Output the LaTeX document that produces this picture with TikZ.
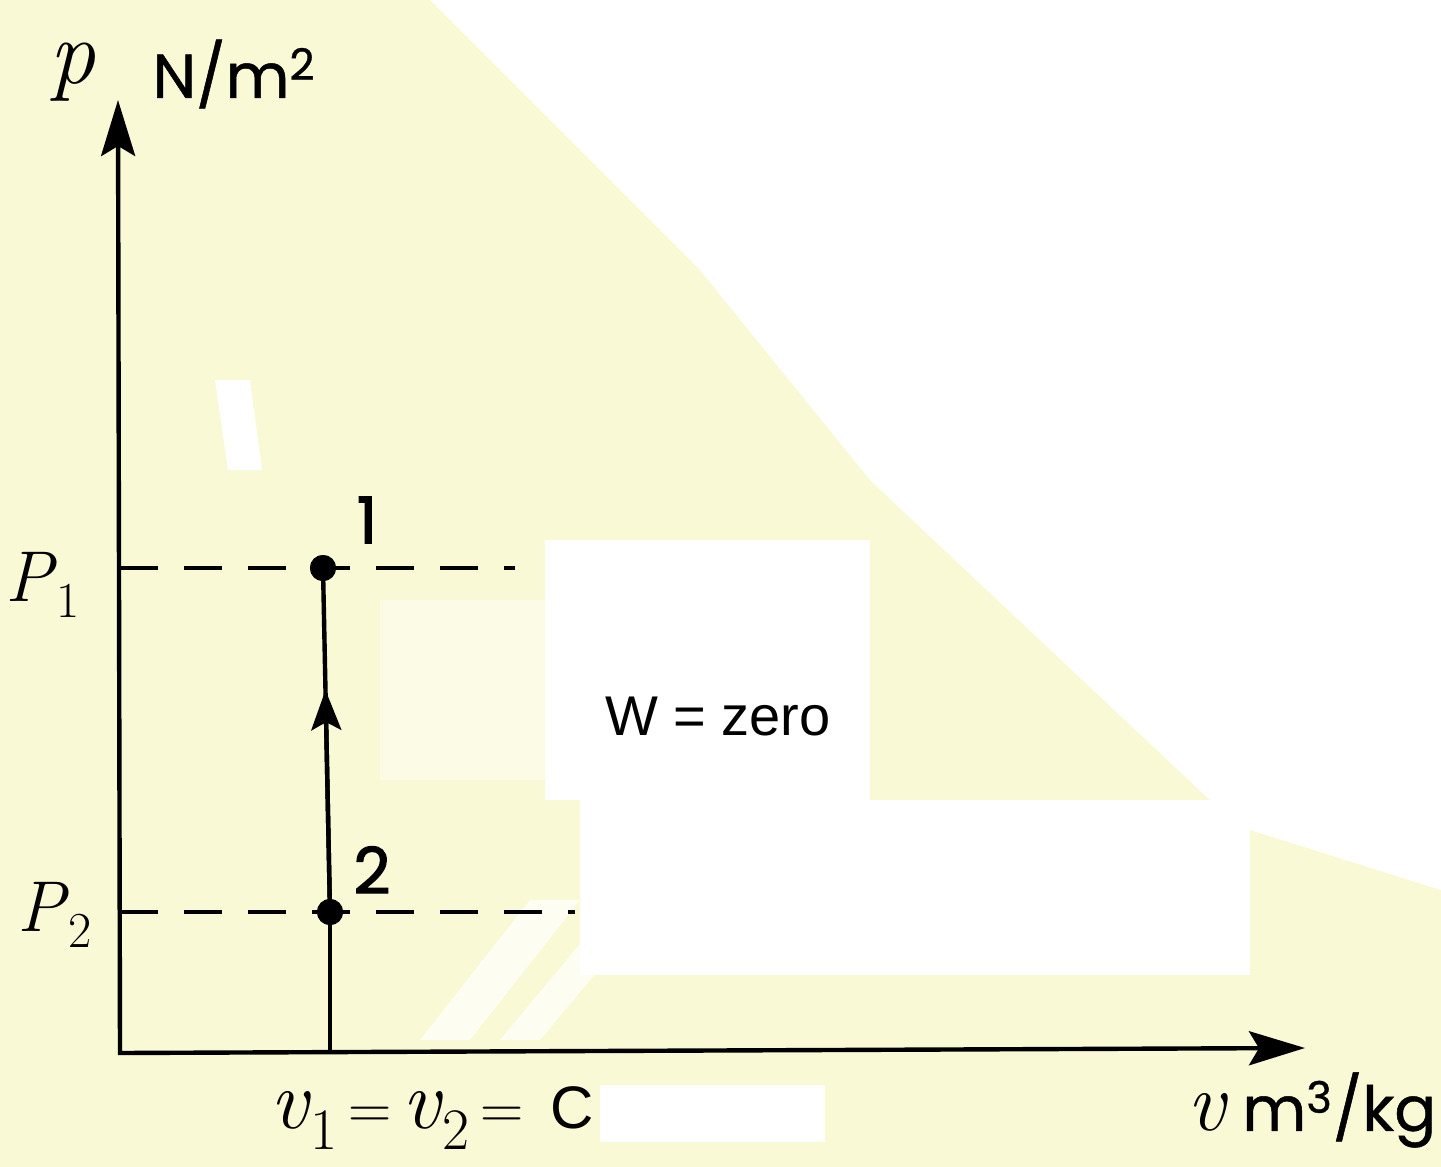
\documentclass[tikz,border=0pt]{standalone}
\usepackage{fontspec}
\setsansfont{Poppins}[FakeBold=1]
\newfontfamily\unitsfont{Poppins}[FakeBold=0.8]
\newfontfamily\numfont{Poppins}[FakeBold=2]
\newfontfamily\arial{Liberation Sans}
\usetikzlibrary{arrows.meta,calc}
\definecolor{paper}{RGB}{250,249,214}
\newcommand{\smeq}{{\fontsize{30}{32}\selectfont\,=\,}}
\begin{document}
\begin{tikzpicture}[x=0.5pt,y=-0.5pt,
  axisline/.style={line width=2.2pt},
  bigtip/.tip={Stealth[length=28pt,width=17pt,inset=5pt]},
  midtip/.style={-{Stealth[length=20pt,width=15pt,inset=4pt]}},
  guide/.style={line width=2pt, dash pattern=on 19pt off 13pt},
  statept/.style={circle, fill=black, inner sep=0pt, minimum size=13pt},
  lbl/.style={inner sep=0pt},
  unitfont/.style={font=\unitsfont\fontsize{31}{34}\selectfont},
]
% background (scanned paper with erased patches)
\useasboundingbox (0,0) rectangle (1441,1167);
\fill[paper] (0,0) rectangle (1441,1167);
\fill[white] (430,0) -- (1441,0) -- (1441,890) -- (1250,830) -- (1210,800)
  -- (870,480) -- (700,270) -- (560,130) -- cycle;
\fill[white] (545,540) rectangle (870,800);
\fill[white, opacity=0.4] (380,600) rectangle (545,780);
\fill[white] (580,800) rectangle (1250,975);
\fill[white] (600,1085) rectangle (825,1142);
\fill[white] (215,380) -- (250,380) -- (262,470) -- (228,470) -- cycle;
\fill[white, opacity=0.7] (420,1040) -- (470,1040) -- (580,900) -- (530,900) -- cycle;
\fill[white, opacity=0.7] (500,1040) -- (540,1040) -- (640,920) -- (600,920) -- cycle;

% geometry
\coordinate (O) at (120,1053);
\coordinate (ytip) at (118,100);
\coordinate (xtip) at (1305,1048);
\coordinate (foot) at (330,1053);
\coordinate (d1s) at (120,568);
\coordinate (d1e) at (515,568);
\coordinate (d2s) at (120,912);
\coordinate (d2e) at (575,912);
\node[statept] (s1) at (323,568) {};
\node[statept] (s2) at (330,912) {};

% axes
\draw[axisline, bigtip-bigtip] (ytip) -- (O) -- (xtip);
% guide lines
\draw[guide] (d1s) -- (d1e);
\draw[guide] (d2s) -- (d2e);
% process line
\draw[axisline] (foot) -- (s2.center);
\draw[axisline] (s2.center) -- (s1.center);
\draw[axisline, midtip] (s2.center) -- ($(s2.center)!0.645!(s1.center)$);
\node[statept] at (s1) {};
\node[statept] at (s2) {};

% labels
\node[lbl, font=\itshape\fontsize{46}{50}\selectfont] (lp) at (72,72) {p};
\node[lbl, unitfont] (lpu) at (234,74) {N/m\textsuperscript{2}};
\node[lbl, font=\numfont\fontsize{32}{34}\selectfont] (n1) at (367,520) {1};
\node[lbl, font=\numfont\fontsize{32}{34}\selectfont] (n2) at (372,870) {2};
\node[lbl, font=\fontsize{36}{40}\selectfont] (lp1) at (43,585) {\textit{P}\textsubscript{1}};
\node[lbl, font=\fontsize{36}{40}\selectfont] (lp2) at (55,915) {\textit{P}\textsubscript{2}};
\node[lbl, font=\arial\fontsize{28}{30}\selectfont] (w) at (718,717) {W = zero};
\node[lbl, font=\fontsize{42}{46}\selectfont] (lv) at (432,1118)
  {\textit{v}\textsubscript{1}\smeq\textit{v}\textsubscript{2}\smeq{\arial\fontsize{30}{32}\selectfont\;C}};
\node[lbl] (lvu) at (1312,1110)
  {\fontsize{42}{46}\selectfont\textit{v}\,{\unitsfont\fontsize{31}{33}\selectfont m\textsuperscript{3}/kg}};
\end{tikzpicture}
\end{document}
